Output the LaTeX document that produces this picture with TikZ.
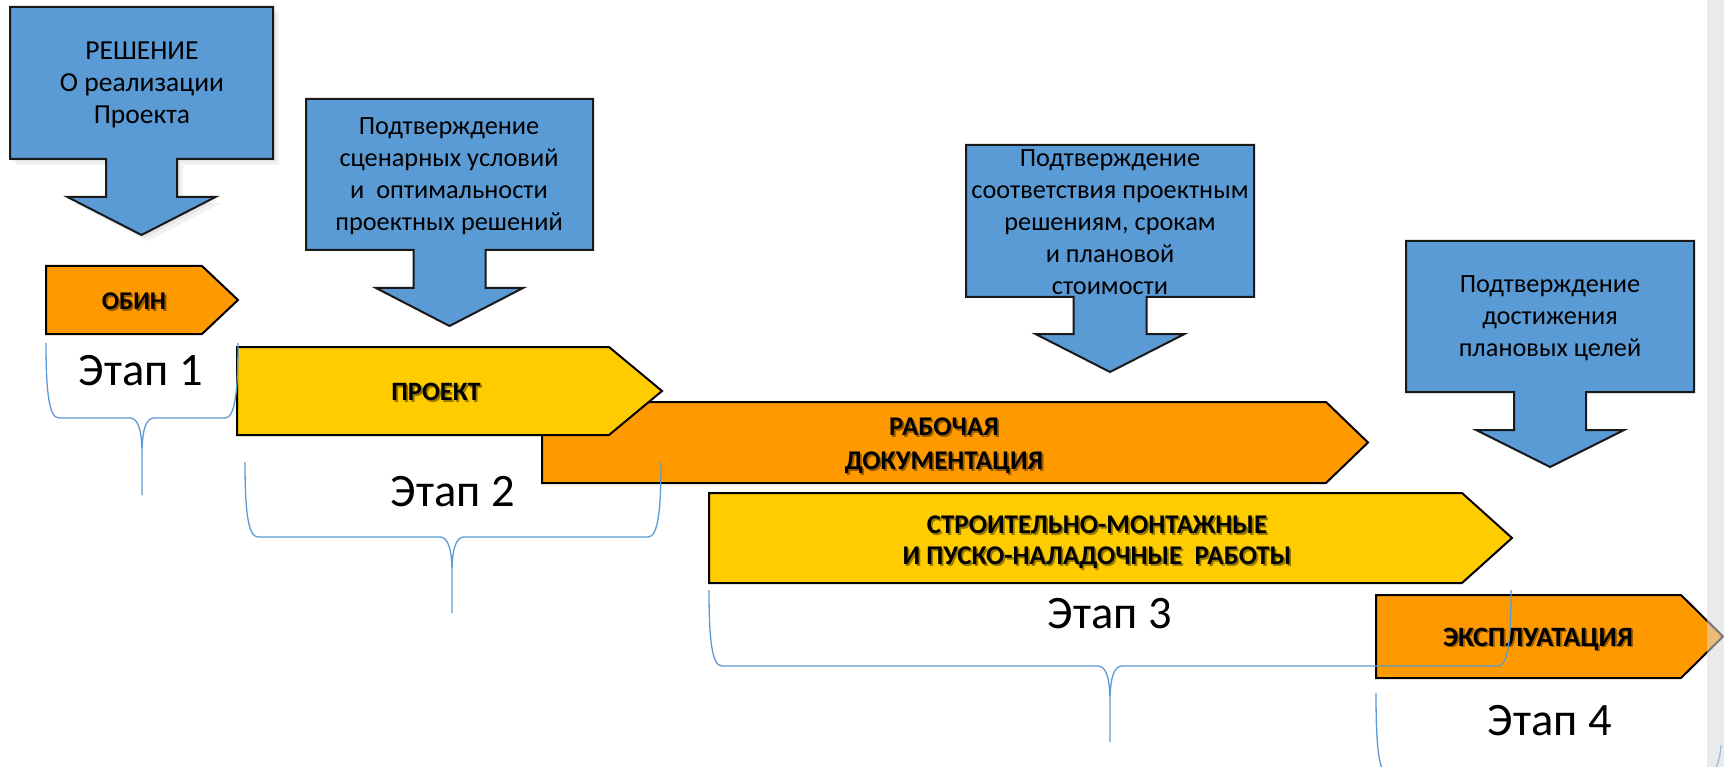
\documentclass[tikz,border=0pt]{standalone}
\usepackage{fontspec}
\setmainfont{Carlito}
\usetikzlibrary{calc}
\definecolor{cblue}{HTML}{5B9BD5}
\definecolor{corange}{HTML}{FF9900}
\definecolor{cyellow}{HTML}{FFCC00}
\definecolor{cbrace}{HTML}{5B9BD5}
\definecolor{cband}{HTML}{D9D9D9}
\tikzset{
  bluebox/.style={fill=cblue, draw=black!90, line width=2pt, line join=miter},
  orangebar/.style={fill=corange, draw=black, line width=2pt, line join=miter},
  yellowbar/.style={fill=cyellow, draw=black, line width=2pt, line join=miter},
  bracel/.style={draw=cbrace, line width=1.3pt},
  boxtext/.style={align=center, font=\fontsize{26.3}{32}\selectfont, text=black, inner sep=0pt},
  bartext/.style={align=center, font=\bfseries\fontsize{27}{34}\selectfont, text=black, inner sep=0pt},
  barshadow/.style={text=black, text opacity=0.4},
  stagetext/.style={font=\fontsize{46.5}{50}\selectfont, inner sep=0pt, text depth=0pt},
}
% callout: extra style, left, top, right, bottom, shaft half width, head y, head half width, tip y
\newcommand{\callout}[9]{%
  \pgfmathsetmacro\calcx{(#2+#4)/2}%
  \path[bluebox,#1] (#2,#3) -- (#4,#3) -- (#4,#5) -- ({\calcx+#6},#5) -- ({\calcx+#6},#7)
    -- ({\calcx+#8},#7) -- (\calcx,#9) -- ({\calcx-#8},#7) -- ({\calcx-#6},#7)
    -- ({\calcx-#6},#5) -- (#2,#5) -- cycle;}
% stage bar: style, left, top, bottom, shoulder, tip
\newcommand{\stagebar}[6]{%
  \path[#1] (#2,#3) -- (#5,#3) -- (#6,{(#3+#4)/2}) -- (#5,#4) -- (#2,#4) -- cycle;}
% brace: xl, xr, ytopL, yh, xm, ytip, ytopR
\newcommand{\stagebrace}[7]{%
  \draw[bracel] (#1,#3) .. controls (#1,{#4-26}) and ({#1+3},#4) .. ({#1+13},#4)
    -- ({#5-12},#4) .. controls ({#5-4},#4) and (#5,{#4+12}) .. (#5,{#4+36}) -- (#5,#6)
    -- (#5,{#4+36}) .. controls (#5,{#4+12}) and ({#5+4},#4) .. ({#5+12},#4)
    -- ({#2-13},#4) .. controls ({#2-3},#4) and (#2,{#4-26}) .. (#2,#7);}
% shadowed bold label
\newcommand{\barlabel}[4]{%
  \node[bartext,barshadow,#4] at ($(#2)+(1.8,1.8)$) {#3};
  \node[bartext,#4] (#1) at (#2) {#3};}
\begin{document}
\begin{tikzpicture}[x=1pt,y=-1pt]
\useasboundingbox (0,0) rectangle (1724,767);
\clip (0,0) rectangle (1724,767);
\fill[white] (0,0) rectangle (1724,767);

% stage bars
\stagebar{orangebar}{542}{402}{483}{1326}{1368}
\stagebar{yellowbar}{237}{347}{435}{609}{662}
\stagebar{orangebar}{46}{266}{334}{202}{238}
\stagebar{yellowbar}{709}{493}{583}{1462}{1512}
\stagebar{orangebar}{1376}{595}{678}{1681}{1723}

\barlabel{obin}{134,301}{ОБИН}{font=\bfseries\fontsize{25.5}{34}\selectfont, text depth=0pt}
\barlabel{proekt}{436,392}{ПРОЕКТ}{font=\bfseries\fontsize{26.5}{34}\selectfont, text depth=0pt}
\barlabel{rd}{944,446}{РАБОЧАЯ\\ДОКУМЕНТАЦИЯ}{}
\barlabel{smr}{1097,542}{СТРОИТЕЛЬНО-МОНТАЖНЫЕ\\И ПУСКО-НАЛАДОЧНЫЕ\ \ РАБОТЫ}{font=\bfseries\fontsize{27}{31}\selectfont}
\barlabel{expl}{1538,637}{ЭКСПЛУАТАЦИЯ}{font=\bfseries\fontsize{28}{34}\selectfont, text depth=0pt}

% callouts
\callout{fill=black,draw=none,opacity=0.05,shift={(3,3)}}{10}{7}{273}{159}{35.5}{197}{74}{235}
\callout{fill=black,draw=none,opacity=0.05,shift={(6,6)}}{10}{7}{273}{159}{35.5}{197}{74}{235}
\callout{}{10}{7}{273}{159}{35.5}{197}{74}{235}
\callout{}{306}{99}{593}{250}{36}{288}{73.5}{326}
\callout{}{966}{145}{1254}{297}{36.5}{334}{74.5}{372}
\callout{}{1406}{241}{1694}{392}{36}{430}{74}{467}

\node[boxtext, font=\fontsize{27.5}{32}\selectfont] (d1) at (142,85) {РЕШЕНИЕ\\О реализации\\Проекта};
\node[boxtext] (d2) at (449,176) {Подтверждение\\сценарных условий\\и\ \ оптимальности\\проектных решений};
\node[boxtext] (d3) at (1110,222) {Подтверждение\\соответствия проектным\\решениям, срокам\\и плановой\\стоимости};
\node[boxtext] (d4) at (1550,318) {Подтверждение\\достижения\\плановых целей};

% stage labels
\node[stagetext] (e1) at (141,370) {Этап 1};
\node[stagetext] (e2) at (453,491) {Этап 2};
\node[stagetext] (e3) at (1110,613) {Этап 3};
\node[stagetext] (e4) at (1550,720) {Этап 4};

% braces
\stagebrace{46}{238}{343}{418}{142}{495}{343}
\stagebrace{245}{661}{462}{537}{452}{613}{462}
\stagebrace{709}{1511}{590}{666}{1110}{742}{590}
\stagebrace{1376}{1721}{693}{775}{1550}{850}{745}

% right grey band
\fill[cband, opacity=0.55] (1707,0) rectangle (1724,767);
\end{tikzpicture}
\end{document}
